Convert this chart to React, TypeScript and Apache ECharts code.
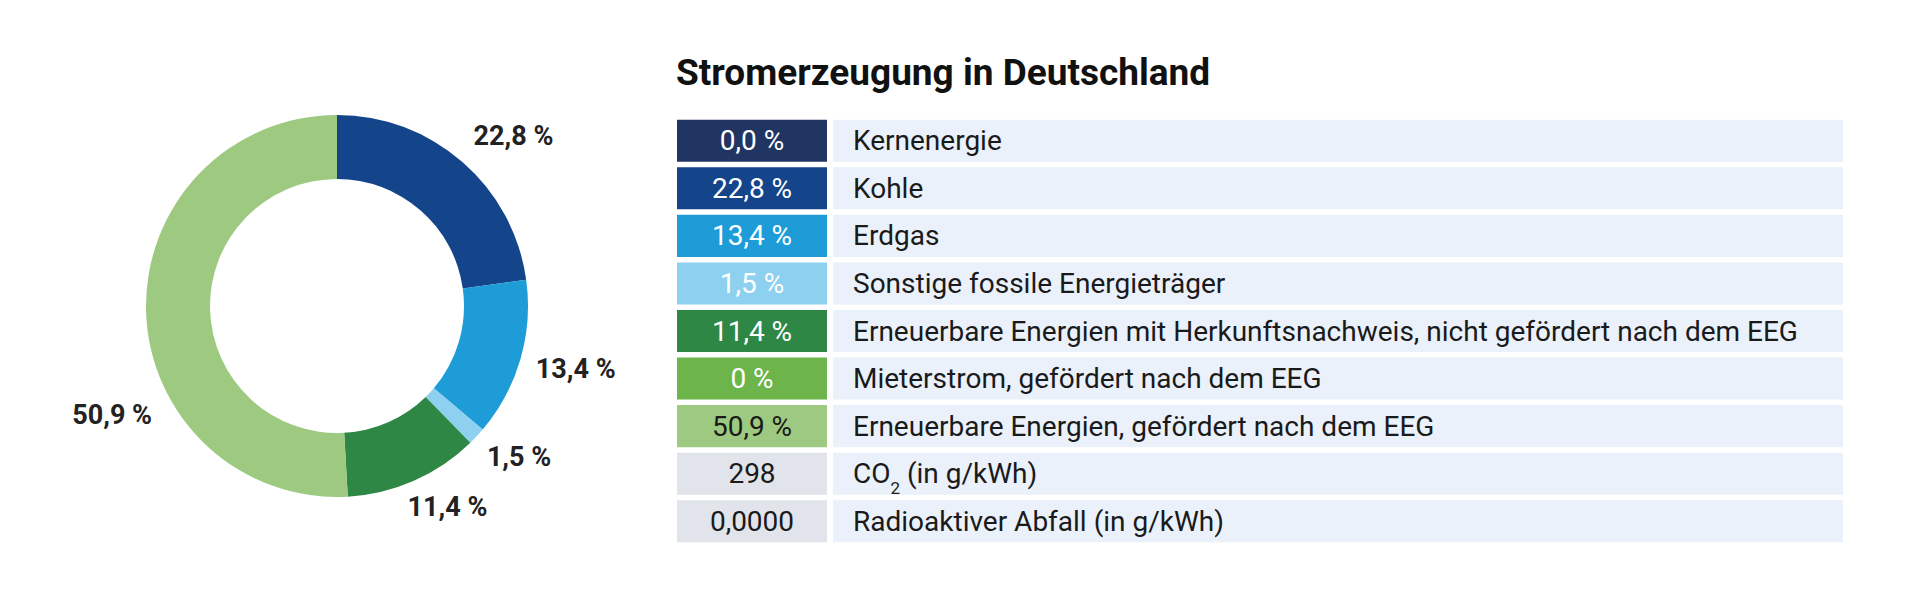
import { useEffect, useRef } from "react";
import * as echarts from "echarts";

// Strommix rows (first seven go into the donut)
const categories = [
  "Kernenergie",
  "Kohle",
  "Erdgas",
  "Sonstige fossile Energieträger",
  "Erneuerbare Energien mit Herkunftsnachweis, nicht gefördert nach dem EEG",
  "Mieterstrom, gefördert nach dem EEG",
  "Erneuerbare Energien, gefördert nach dem EEG",
];
const shares = [0, 22.8, 13.4, 1.5, 11.4, 0, 50.9];
const shareLabels = ["0,0 %", "22,8 %", "13,4 %", "1,5 %", "11,4 %", "0 %", "50,9 %"];
const colors = ["#213563", "#14448a", "#1e9cd8", "#8dd0f0", "#2e8745", "#6db54b", "#9dca80"];

// extra rows below the mix
const extraLabels = ["CO{sub|2} (in g/kWh)", "Radioaktiver Abfall (in g/kWh)"];
const extraValues = ["298", "0,0000"];

const rowLabels = [...categories, ...extraLabels];
const rowValues = [...shareLabels, ...extraValues];
const rowColors = [...colors, "#e1e4ea", "#e1e4ea"];
const rowTextColors = ["#fff", "#fff", "#fff", "#fff", "#fff", "#fff", "#1a1a1a", "#1a1a1a", "#1a1a1a"];

// small nudges for the donut labels, as in the original layout
const labelNudge: Record<number, { dx?: number; dy?: number }> = {
  1: { dx: -2, dy: -15 },
  2: { dx: -2, dy: 6 },
  3: { dx: -4, dy: 11 },
  4: { dx: -16, dy: 13 },
  6: { dx: 24, dy: 103 },
};

const FONT = "Roboto, 'Noto Sans', sans-serif";

export default function App() {
  const chartRef = useRef<HTMLDivElement>(null);

  useEffect(() => {
    document.body.style.margin = "0";
    if (!chartRef.current) return;
    const chart = echarts.init(chartRef.current, undefined, { renderer: "svg" });

    const option: echarts.EChartsOption = {
      animation: false,
      backgroundColor: "#fff",
      title: {
        text: "Stromerzeugung in Deutschland",
        left: 671,
        top: 49,
        textStyle: { fontFamily: FONT, fontSize: 37, fontWeight: "bold", color: "#111" },
      },
      grid: { left: 677, right: 77, top: 117, height: 428 },
      xAxis: { type: "value", min: 0, max: 1, show: false },
      yAxis: {
        type: "category",
        data: rowLabels,
        inverse: true,
        show: false,
      },
      series: [
        {
          type: "pie",
          center: [337, 306],
          radius: [127, 191],
          startAngle: 90,
          clockwise: true,
          minShowLabelAngle: 1,
          data: categories.map((name, i) => ({
            name,
            value: shares[i],
            itemStyle: { color: colors[i] },
          })),
          label: {
            show: true,
            position: "outside",
            formatter: (p: any) => p.value.toFixed(1).replace(".", ",") + " %",
            fontFamily: FONT,
            fontSize: 27,
            fontWeight: "bold",
            color: "#222",
            distanceToLabelLine: 4,
          },
          labelLine: { show: false, length: 14, length2: 0 },
          labelLayout: (params: any) => labelNudge[params.dataIndex] || {},
          emphasis: { disabled: true },
        },
        {
          type: "custom",
          silent: true,
          data: rowLabels.map((_, i) => [0, i]),
          renderItem: (params: any, api: any) => {
            const i = api.value(1);
            const [x0, cy] = api.coord([0, i]);
            const x1 = api.coord([1, i])[0];
            const band = api.size([0, 1])[1];
            const h = band - 5.5;
            const top = cy - h / 2;
            const boxW = 150;
            const isRich = rowLabels[i].includes("{sub|");
            return {
              type: "group",
              children: [
                {
                  type: "rect",
                  shape: { x: x0, y: top, width: boxW, height: h },
                  style: { fill: rowColors[i] },
                },
                {
                  type: "rect",
                  shape: { x: x0 + boxW + 6, y: top, width: x1 - x0 - boxW - 6, height: h },
                  style: { fill: "#eaf1fb" },
                },
                {
                  type: "text",
                  style: {
                    text: rowValues[i],
                    x: x0 + boxW / 2,
                    y: cy,
                    fill: rowTextColors[i],
                    fontFamily: FONT,
                    fontSize: 28,
                    textAlign: "center",
                    textVerticalAlign: "middle",
                  },
                },
                {
                  type: "text",
                  style: {
                    text: rowLabels[i],
                    x: x0 + 176,
                    y: cy,
                    fill: "#1a1a1a",
                    fontFamily: FONT,
                    fontSize: 28,
                    textAlign: "left",
                    textVerticalAlign: "middle",
                    lineHeight: isRich ? 46 : undefined,
                    rich: isRich
                      ? {
                          sub: {
                            fontFamily: FONT,
                            fontSize: 17,
                            lineHeight: 15,
                            verticalAlign: "bottom",
                            fill: "#1a1a1a",
                          },
                        }
                      : undefined,
                  },
                },
              ],
            };
          },
        },
      ],
    };

    chart.setOption(option);
    return () => chart.dispose();
  }, []);

  return <div ref={chartRef} style={{ width: 1920, height: 614 }} />;
}
